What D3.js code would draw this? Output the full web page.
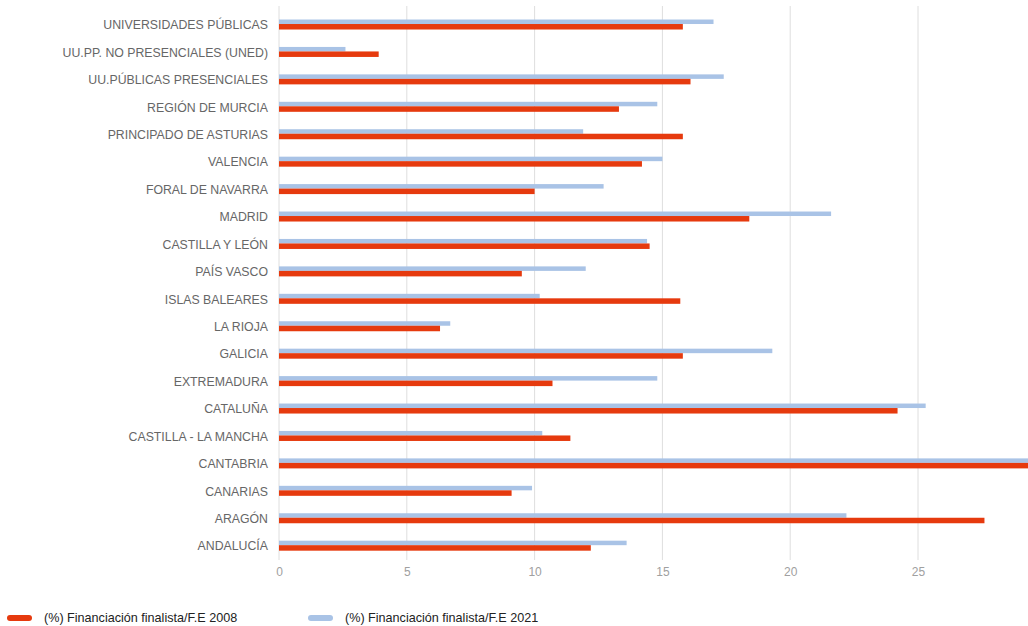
<!DOCTYPE html>
<html><head><meta charset="utf-8">
<script src="https://cdn.jsdelivr.net/npm/d3@7"></script>
<style>body{margin:0;background:#fff}svg{display:block}</style>
</head><body>
<script>
const categories = ["UNIVERSIDADES PÚBLICAS","UU.PP. NO PRESENCIALES (UNED)","UU.PÚBLICAS PRESENCIALES","REGIÓN DE MURCIA ","PRINCIPADO DE ASTURIAS","VALENCIA","FORAL DE NAVARRA","MADRID","CASTILLA Y LEÓN","PAÍS VASCO","ISLAS BALEARES","LA RIOJA","GALICIA","EXTREMADURA","CATALUÑA","CASTILLA - LA MANCHA","CANTABRIA","CANARIAS","ARAGÓN","ANDALUCÍA"];
const values2008 = [15.8,3.9,16.1,13.3,15.8,14.2,10.0,18.4,14.5,9.5,15.7,6.3,15.8,10.7,24.2,11.4,31.5,9.1,27.6,12.2];
const values2021 = [17.0,2.6,17.4,14.8,11.9,15.0,12.7,21.6,14.4,12.0,10.2,6.7,19.3,14.8,25.3,10.3,31.0,9.9,22.2,13.6];
const ticks = [0,5,10,15,20,25];
const seriesNames = ["(%) Financiación finalista/F.E 2008","(%) Financiación finalista/F.E 2021"];
const colors = ["#e63a0e","#a9c3e6"];

const W=1028,H=626;
const svg=d3.select("body").append("svg").attr("width",W).attr("height",H);
const x=d3.scaleLinear().domain([0,25]).range([279,918]);
const y=d3.scaleBand().domain(categories).range([11.3,559.9]);

svg.append("g").selectAll("line").data(ticks).join("line")
  .attr("x1",d=>x(d)).attr("x2",d=>x(d)).attr("y1",6).attr("y2",560)
  .attr("stroke","#dedede").attr("stroke-width",1);

const axis=d3.axisBottom(x).tickValues(ticks).tickSize(0).tickPadding(0);
const ag=svg.append("g").attr("transform","translate(0,567)").call(axis);
ag.select(".domain").remove();
ag.selectAll("text").attr("fill","#a0a0a0").attr("font-family","Liberation Sans, Arial, sans-serif").attr("font-size",12);

const yAxis=d3.axisLeft(y).tickSize(0).tickPadding(0);
const yg=svg.append("g").attr("transform","translate(268,0)").call(yAxis);
yg.select(".domain").remove();
yg.selectAll("text").attr("fill","#666").attr("font-family","Liberation Sans, Arial, sans-serif").attr("font-size",12.3).attr("dy","0.35em");

const mid=d=>y(d)+y.bandwidth()/2;
svg.append("g").selectAll("rect").data(categories).join("rect")
  .attr("x",x(0)).attr("y",d=>mid(d)-5.5).attr("height",4.5)
  .attr("width",(d,i)=>x(values2021[i])-x(0)).attr("fill",colors[1]);
svg.append("g").selectAll("rect").data(categories).join("rect")
  .attr("x",x(0)).attr("y",d=>mid(d)-1).attr("height",5.5)
  .attr("width",(d,i)=>x(values2008[i])-x(0)).attr("fill",colors[0]);

const lg=svg.append("g");
const lx=[7,308];
seriesNames.forEach((n,i)=>{
  lg.append("rect").attr("x",lx[i]).attr("y",615).attr("width",25).attr("height",6).attr("rx",3).attr("fill",colors[i]);
  lg.append("text").attr("x",lx[i]+37).attr("y",618).attr("dy","0.35em").attr("fill","#222")
    .attr("font-family","Liberation Sans, Arial, sans-serif").attr("font-size",12.6).text(n);
});
</script>
</body></html>
